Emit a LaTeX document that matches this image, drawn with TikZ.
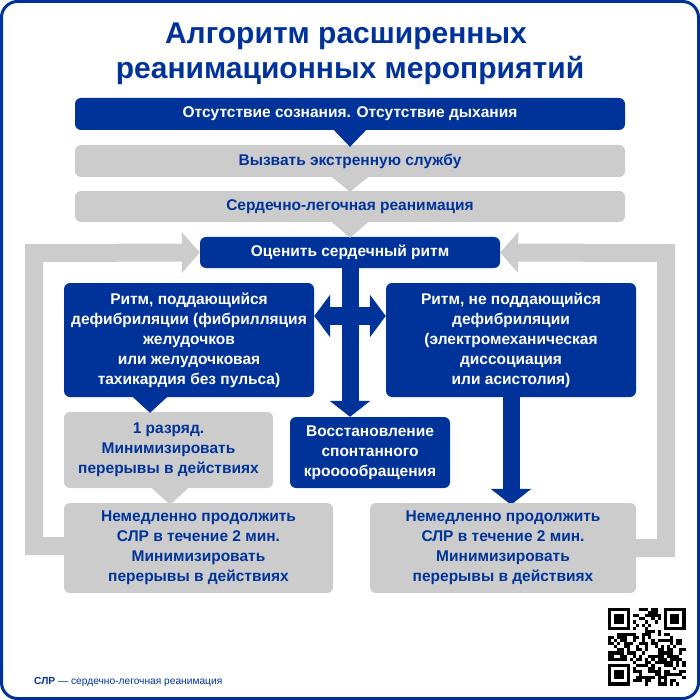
\documentclass[tikz,border=0pt]{standalone}
\usepackage{fontspec}
\setmainfont{Liberation Sans}
\usetikzlibrary{arrows.meta}
\definecolor{mblue}{RGB}{0,51,153}
\definecolor{mgray}{RGB}{204,204,204}
\pgfdeclarelayer{background}
\pgfsetlayers{background,main}
\tikzset{
  boxtxt/.style={font=\fontsize{15.5}{20}\selectfont\bfseries, align=center, inner sep=0pt, rounded corners=6pt},
  bluebox/.style={boxtxt, fill=mblue, text=white},
  graybox/.style={boxtxt, fill=mgray, text=mblue},
  grayloop/.style={draw=mgray, line width=18pt, line join=miter, -{Triangle[width=40pt,length=18pt]}},
  bluearrow/.style={draw=mblue, line width=17pt, -{Triangle[width=40pt,length=16pt]}},
  bluedouble/.style={draw=mblue, line width=18pt, {Triangle[width=42pt,length=16pt]}-{Triangle[width=42pt,length=16pt]}},
  titletxt/.style={anchor=base, text=mblue, font=\fontsize{30}{36}\selectfont\bfseries, inner sep=0pt},
}
\begin{document}
\begin{tikzpicture}[x=1pt,y=-1pt]
\useasboundingbox (0,0) rectangle (700,700);
\draw[mblue, line width=3pt, rounded corners=16pt] (1.5,1.5) rectangle (698.5,698.5);
% title
\node[titletxt] (t1) at (346,43.5) {Алгоритм расширенных};
\node[titletxt] (t2) at (350,78.5) {реанимационных мероприятий};
% bars
\node[bluebox, minimum width=550pt, minimum height=32pt] (bar1) at (350,114) {Отсутствие сознания. Отсутствие дыхания};
\node[graybox, minimum width=550pt, minimum height=32pt] (bar2) at (350,161) {Вызвать экстренную службу};
\node[graybox, minimum width=550pt, minimum height=31pt] (bar3) at (350,206.5) {Сердечно-легочная реанимация};
\node[bluebox, minimum width=300pt, minimum height=31pt] (ocen) at (350,252.5) {Оценить сердечный ритм};
% pointers
\fill[mblue] ([xshift=-16pt]bar1.south) -- ([xshift=16pt]bar1.south) -- ([yshift=-2pt]bar1.south |- bar2.north) -- cycle;
\fill[mgray] ([xshift=-18pt]bar2.south) -- ([xshift=18pt]bar2.south) -- ([yshift=-1pt]bar2.south |- bar3.north) -- cycle;
\fill[mgray] ([xshift=-18pt]bar3.south) -- ([xshift=18pt]bar3.south) -- ([yshift=-1pt]bar3.south |- ocen.north) -- cycle;
% second level
\node[bluebox, minimum width=250pt, minimum height=114pt] (L) at (189,340) {Ритм, поддающийся\\дефибриляции (фибрилляция\\желудочков\\или желудочковая\\тахикардия без пульса)};
\node[bluebox, minimum width=250pt, minimum height=114pt] (R) at (511,340) {Ритм, не поддающийся\\дефибриляции\\(электромеханическая\\диссоциация\\или асистолия)};
\node[graybox, minimum width=209pt, minimum height=76pt] (razr) at (168.5,450) {1 разряд.\\Минимизировать\\перерывы в действиях};
\node[bluebox, minimum width=160pt, minimum height=71pt] (resto) at (370,452.5) {Восстановление\\спонтанного\\крооообращения};
\node[graybox, minimum width=269pt, minimum height=90pt] (nemL) at (198.5,548) {Немедленно продолжить\\СЛР в течение 2 мин.\\Минимизировать\\перерывы в действиях};
\node[graybox, minimum width=266pt, minimum height=90pt] (nemR) at (503,548) {Немедленно продолжить\\СЛР в течение 2 мин.\\Минимизировать\\перерывы в действиях};
\fill[mblue] ([xshift=-56pt]L.south) -- ([xshift=-22pt]L.south) -- ([xshift=-39pt,yshift=-1pt]L.south |- razr.north) -- cycle;
\fill[mgray] ([xshift=-16.5pt]razr.south) -- ([xshift=19.5pt]razr.south) -- ([xshift=1.5pt,yshift=-2pt]razr.south |- nemL.north) -- cycle;
% connectors
\begin{pgfonlayer}{background}
\draw[grayloop] ([yshift=2pt]nemL.west) -- (34,546) -- (34,253) -- (ocen.west);
\draw[grayloop] (nemR.east) -- (666,548) -- (666,253) -- (ocen.east);
\draw[bluearrow] (ocen.south) -- (ocen.south |- resto.north);
\draw[bluedouble] ([yshift=24pt]L.east) -- ([yshift=24pt]R.west);
\draw[bluearrow] (R.south) -- ([yshift=-2pt]R.south |- nemR.north);
\end{pgfonlayer}
% footer
\node[anchor=base west, text=mblue, font=\fontsize{10.2}{12}\selectfont, inner sep=0pt] (foot) at (34,684) {\textbf{СЛР} — сердечно-легочная реанимация};
% QR code
\pgfmathsetseed{4711}
\foreach \i in {0,...,24}{\foreach \j in {0,...,24}{
  \pgfmathtruncatemacro\qsk{((\i<8)&&(\j<8))||((\i>16)&&(\j<8))||((\i<8)&&(\j>16)) ? 1 : 0}
  \pgfmathrandominteger{\qr}{0}{1}
  \ifnum\qsk=0 \ifnum\qr=1 \fill[black] (608+\i*3.1,608+\j*3.1) rectangle ++(3.15,3.15); \fi\fi
}}
\foreach \cx/\cy in {0/0,18/0,0/18}{
  \fill[black] (608+\cx*3.1,608+\cy*3.1) rectangle ++(21.7,21.7);
  \fill[white] (608+\cx*3.1+3.1,608+\cy*3.1+3.1) rectangle ++(15.5,15.5);
  \fill[black] (608+\cx*3.1+6.2,608+\cy*3.1+6.2) rectangle ++(9.3,9.3);
}
\end{tikzpicture}
\end{document}
